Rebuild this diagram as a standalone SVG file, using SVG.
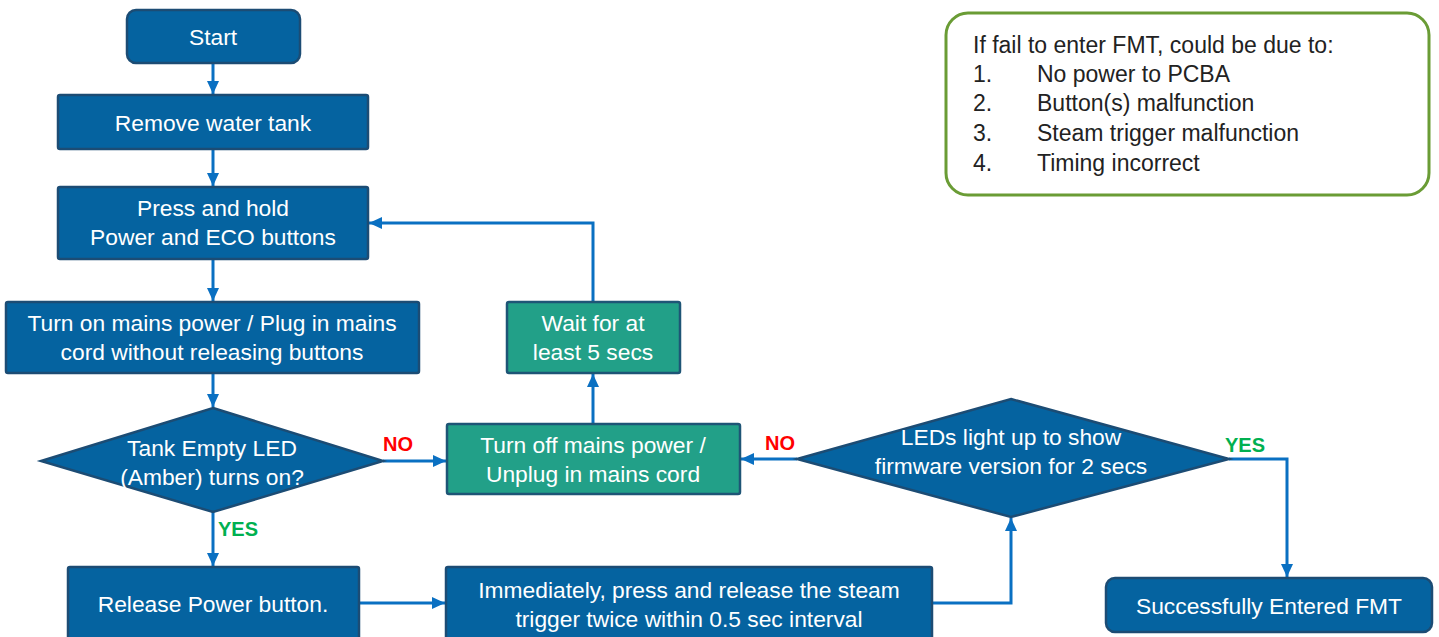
<svg xmlns="http://www.w3.org/2000/svg" width="1439" height="637" viewBox="0 0 1439 637">
<style>
.box{fill:#0563A0;stroke:#1C4C74;stroke-width:2.5}
.teal{fill:#22A088;stroke:#1E5576;stroke-width:2.5}
.t{font-family:"Liberation Sans",Arial,sans-serif;font-size:22.8px;fill:#fff;text-anchor:middle;dominant-baseline:central}
.n{font-family:"Liberation Sans",Arial,sans-serif;font-size:23px;fill:#222;dominant-baseline:central}
.c{fill:none;stroke:#0A70C2;stroke-width:3;marker-end:url(#ah)}
.no{font-family:"Liberation Sans",Arial,sans-serif;font-size:20px;font-weight:bold;fill:#FF0000;dominant-baseline:central}
.yes{font-family:"Liberation Sans",Arial,sans-serif;font-size:20px;font-weight:bold;fill:#00B050;dominant-baseline:central}
</style>
<defs>
<marker id="ah" markerUnits="userSpaceOnUse" markerWidth="14" markerHeight="14" refX="13" refY="7" orient="auto">
<path d="M0,1 L13,7 L0,13 z" fill="#0A70C2"/>
</marker>
</defs>
<rect width="1439" height="637" fill="#fff"/>
<g id="connectors">
<path class="c" d="M213,63 V94"/>
<path class="c" d="M213,149 V186"/>
<path class="c" d="M213,259 V301"/>
<path class="c" d="M213,373 V407"/>
<path class="c" d="M213,512 V566"/>
<path class="c" d="M383,461 H446"/>
<path class="c" d="M359,603 H445"/>
<path class="c" d="M932,603 H1011 V518"/>
<path class="c" d="M797,459 H741"/>
<path class="c" d="M1229,459 H1287 V577"/>
<path class="c" d="M593,424 V374"/>
<path class="c" d="M593,302 V223 H369"/>
<text class="no" x="383" y="444">NO</text>
<text class="yes" x="218" y="529">YES</text>
<text class="no" x="765" y="443">NO</text>
<text class="yes" x="1225" y="445">YES</text>
</g>
<g id="start">
<rect class="box" x="127" y="10" width="173" height="53" rx="9"/>
<text class="t" x="213" y="37">Start</text>
</g>
<g id="remove">
<rect class="box" x="58" y="95" width="310" height="54" rx="2"/>
<text class="t" x="213" y="123">Remove water tank</text>
</g>
<g id="press">
<rect class="box" x="58" y="187" width="310" height="72" rx="2"/>
<text class="t" x="213" y="208">Press and hold</text>
<text class="t" x="213" y="237">Power and ECO buttons</text>
</g>
<g id="turnon">
<rect class="box" x="6" y="302" width="413" height="71" rx="2"/>
<text class="t" x="212" y="323">Turn on mains power / Plug in mains</text>
<text class="t" x="212" y="352">cord without releasing buttons</text>
</g>
<g id="tankled">
<polygon class="box" points="213,408 383,461 213,512 41,461"/>
<text class="t" x="212" y="448">Tank Empty LED</text>
<text class="t" x="212" y="477">(Amber) turns on?</text>
</g>
<g id="release">
<rect class="box" x="68" y="567" width="291" height="75" rx="2"/>
<text class="t" x="213" y="604">Release Power button.</text>
</g>
<g id="turnoff">
<rect class="teal" x="447" y="424" width="293" height="70" rx="2"/>
<text class="t" x="593" y="445">Turn off mains power /</text>
<text class="t" x="593" y="474">Unplug in mains cord</text>
</g>
<g id="wait">
<rect class="teal" x="507" y="302" width="173" height="71" rx="2"/>
<text class="t" x="593" y="323">Wait for at</text>
<text class="t" x="593" y="352">least 5 secs</text>
</g>
<g id="immediately">
<rect class="box" x="446" y="567" width="486" height="75" rx="2"/>
<text class="t" x="689" y="590">Immediately, press and release the steam</text>
<text class="t" x="689" y="619">trigger twice within 0.5 sec interval</text>
</g>
<g id="leds">
<polygon class="box" points="1011,399 1229,459 1011,517 797,459"/>
<text class="t" x="1011" y="437">LEDs light up to show</text>
<text class="t" x="1011" y="466">firmware version for 2 secs</text>
</g>
<g id="success">
<rect class="box" x="1106" y="578" width="326" height="54" rx="9"/>
<text class="t" x="1269" y="606">Successfully Entered FMT</text>
</g>
<g id="note">
<rect x="946" y="13" width="483" height="182" rx="22" fill="#fff" stroke="#6A9C35" stroke-width="3"/>
<text class="n" x="973" y="45">If fail to enter FMT, could be due to:</text>
<text class="n" x="973" y="74">1.</text><text class="n" x="1037" y="74">No power to PCBA</text>
<text class="n" x="973" y="103">2.</text><text class="n" x="1037" y="103">Button(s) malfunction</text>
<text class="n" x="973" y="133">3.</text><text class="n" x="1037" y="133">Steam trigger malfunction</text>
<text class="n" x="973" y="163">4.</text><text class="n" x="1037" y="163">Timing incorrect</text>
</g>
</svg>
